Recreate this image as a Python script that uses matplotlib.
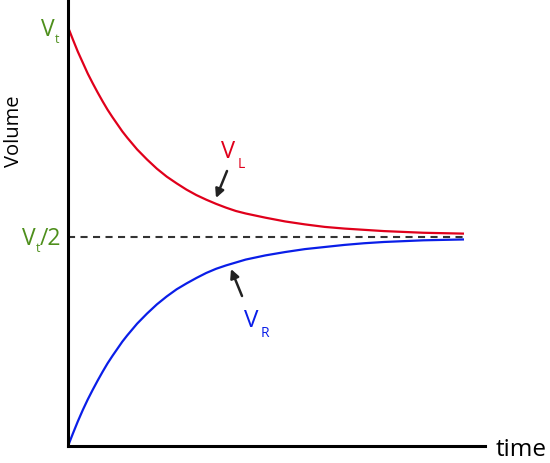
import matplotlib
matplotlib.use("Agg")
import matplotlib.pyplot as plt

# time (fraction of the run) and the two volumes
t = [0, 0.0125, 0.025, 0.0375, 0.05, 0.0625, 0.075, 0.0875, 0.1, 0.1125,
     0.125, 0.1375, 0.15, 0.1625, 0.175, 0.1875, 0.2, 0.225, 0.25, 0.275,
     0.3, 0.325, 0.35, 0.375, 0.4, 0.425, 0.45, 0.475, 0.5, 0.55, 0.6, 0.65,
     0.7, 0.75, 0.8, 0.85, 0.9, 0.95, 1.0]
v_left = [1.0, 0.970, 0.941, 0.915, 0.889, 0.866, 0.844, 0.823, 0.803, 0.785,
          0.768, 0.751, 0.736, 0.722, 0.708, 0.696, 0.684, 0.662, 0.643, 0.627,
          0.612, 0.599, 0.588, 0.578, 0.569, 0.561, 0.555, 0.550, 0.545, 0.536,
          0.529, 0.523, 0.519, 0.516, 0.513, 0.511, 0.509, 0.508, 0.507]
v_right = [0.0, 0.030, 0.059, 0.086, 0.111, 0.134, 0.156, 0.177, 0.197, 0.215,
           0.232, 0.249, 0.264, 0.278, 0.292, 0.304, 0.316, 0.338, 0.357, 0.374,
           0.388, 0.401, 0.413, 0.423, 0.431, 0.438, 0.445, 0.450, 0.455, 0.463,
           0.470, 0.475, 0.480, 0.484, 0.487, 0.489, 0.491, 0.492, 0.493]
v_half = 0.5

red = "#e0001b"
blue = "#0a1ee8"
green = "#4e8f1c"
dark = "#222222"

plt.rcParams["font.family"] = ["Open Sans", "DejaVu Sans"]

W, H = 550, 464
fig = plt.figure(figsize=(W / 100, H / 100), dpi=100)
ax = fig.add_axes([68 / W, 17 / H, (485 - 68) / W, 447 / H])
ax.set_xlim(0, 1.056)
ax.set_ylim(0, 1.067)

ax.plot(t, v_left, color=red, lw=1.6, solid_joinstyle="round")
ax.plot(t, v_right, color=blue, lw=1.6, solid_joinstyle="round")
ax.axhline(v_half, xmin=0, xmax=0.952, color="#333333", lw=1.5,
           linestyle=(0, (3.4, 2.6)))

for side in ["top", "right"]:
    ax.spines[side].set_visible(False)
for side in ["left", "bottom"]:
    ax.spines[side].set_linewidth(2.2)
ax.set_xticks([])
ax.set_yticks([])


def txt(x, y, s, **kw):
    fig.text(x / W, 1 - y / H, s, **kw)


txt(14, 131, "Volume", rotation=90, ha="center", va="center", fontsize=14.5)
txt(496, 456, "time", ha="left", va="baseline", fontsize=17.5)

txt(41, 36, "V", color=green, fontsize=16.5, va="baseline")
txt(55, 43, "t", color=green, fontsize=9, va="baseline")
txt(22, 245, "V", color=green, fontsize=16.5, va="baseline")
txt(36, 252, "t", color=green, fontsize=9, va="baseline")
txt(40, 245, "/2", color=green, fontsize=16.5, va="baseline")

txt(221, 158, "V", color=red, fontsize=17, va="baseline")
txt(238, 168, "L", color=red, fontsize=10, va="baseline")
txt(244, 327, "V", color=blue, fontsize=17.5, va="baseline")
txt(261, 337, "R", color=blue, fontsize=10, va="baseline")

arrow = dict(arrowstyle="-|>", color=dark, lw=1.8, mutation_scale=13,
             shrinkA=0, shrinkB=0)
ax.annotate("", xy=(216, H - 199), xytext=(227, H - 172),
            xycoords="figure pixels", textcoords="figure pixels",
            arrowprops=arrow)
ax.annotate("", xy=(231, H - 270), xytext=(242, H - 297),
            xycoords="figure pixels", textcoords="figure pixels",
            arrowprops=arrow)

fig.savefig("out.png", dpi=100)
plt.close()
